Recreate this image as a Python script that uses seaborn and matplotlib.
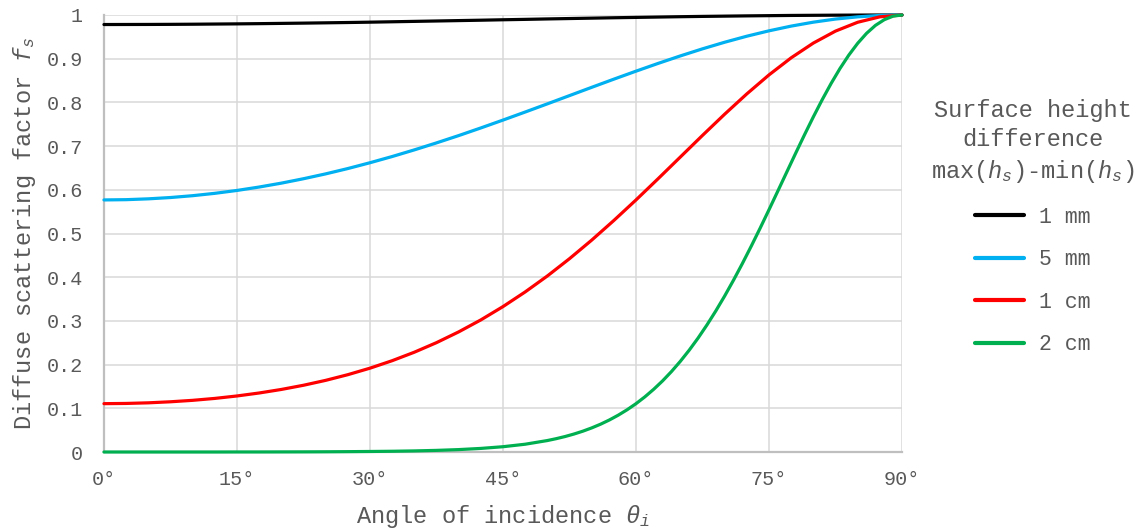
import numpy as np
import pandas as pd
import matplotlib
matplotlib.use("Agg")
import matplotlib.pyplot as plt
import seaborn as sns

# Angle of incidence (degrees)
angles = [0, 2.5, 5, 7.5, 10, 12.5, 15, 17.5, 20, 22.5, 25, 27.5, 30, 32.5, 35, 37.5,
          40, 42.5, 45, 47.5, 50, 52.5, 55, 57.5, 60, 62.5, 65, 67.5, 70, 72.5, 75,
          77.5, 80, 82.5, 85, 87.5, 90]

fs_1mm = [0.9782, 0.9783, 0.9784, 0.9786, 0.9789, 0.9793, 0.9797, 0.9802, 0.9808, 0.9814,
          0.9821, 0.9828, 0.9836, 0.9845, 0.9854, 0.9863, 0.9872, 0.9881, 0.9891, 0.9900,
          0.9910, 0.9919, 0.9928, 0.9937, 0.9945, 0.9953, 0.9961, 0.9968, 0.9974, 0.9980,
          0.9985, 0.9990, 0.9993, 0.9996, 0.9998, 1.0000, 1.0000]

fs_5mm = [0.5769, 0.5775, 0.5794, 0.5824, 0.5866, 0.5920, 0.5986, 0.6064, 0.6153, 0.6254,
          0.6365, 0.6487, 0.6620, 0.6762, 0.6914, 0.7074, 0.7241, 0.7416, 0.7596, 0.7780,
          0.7967, 0.8156, 0.8345, 0.8532, 0.8715, 0.8893, 0.9064, 0.9226, 0.9377, 0.9515,
          0.9638, 0.9746, 0.9836, 0.9907, 0.9958, 0.9990, 1.0000]

fs_1cm = [0.1108, 0.1113, 0.1127, 0.1151, 0.1184, 0.1228, 0.1284, 0.1352, 0.1433, 0.1529,
          0.1641, 0.1771, 0.1920, 0.2091, 0.2285, 0.2504, 0.2750, 0.3024, 0.3329, 0.3664,
          0.4029, 0.4425, 0.4849, 0.5299, 0.5769, 0.6256, 0.6751, 0.7246, 0.7731, 0.8196,
          0.8630, 0.9021, 0.9358, 0.9632, 0.9834, 0.9958, 1.0000]

# the 2 cm curve is steep, so it is read at a finer step past 50 degrees
angles_2cm = [0, 2.5, 5, 7.5, 10, 12.5, 15, 17.5, 20, 22.5, 25, 27.5, 30, 32.5, 35, 37.5,
              40, 42.5, 45, 47.5, 50, 51, 52, 53, 54, 55, 56, 57, 58, 59, 60, 61, 62, 63,
              64, 65, 66, 67, 68, 69, 70, 71, 72, 73, 74, 75, 76, 77, 78, 79, 80, 81, 82,
              83, 84, 85, 86, 87, 88, 89, 90]

fs_2cm = [0.0002, 0.0002, 0.0002, 0.0002, 0.0002, 0.0002, 0.0003, 0.0003, 0.0004, 0.0005,
          0.0007, 0.0010, 0.0014, 0.0019, 0.0027, 0.0039, 0.0057, 0.0084, 0.0123, 0.0180,
          0.0264, 0.0307, 0.0356, 0.0413, 0.0478, 0.0553, 0.0638, 0.0735, 0.0845, 0.0969,
          0.1108, 0.1264, 0.1438, 0.1630, 0.1843, 0.2077, 0.2332, 0.2609, 0.2909, 0.3230,
          0.3572, 0.3935, 0.4316, 0.4713, 0.5124, 0.5546, 0.5975, 0.6406, 0.6836, 0.7259,
          0.7670, 0.8063, 0.8433, 0.8775, 0.9083, 0.9353, 0.9581, 0.9762, 0.9893, 0.9974,
          1.0000]

series_names = ["1 mm", "5 mm", "1 cm", "2 cm"]
series_angles = [angles, angles, angles, angles_2cm]
series_values = [fs_1mm, fs_5mm, fs_1cm, fs_2cm]
series_colors = ["#000000", "#00b0f0", "#ff0000", "#00b050"]

x_ticks = [0, 15, 30, 45, 60, 75, 90]
x_tick_labels = ["0°", "15°", "30°", "45°", "60°", "75°", "90°"]
y_ticks = [0, 0.1, 0.2, 0.3, 0.4, 0.5, 0.6, 0.7, 0.8, 0.9, 1]
y_tick_labels = ["0", "0.1", "0.2", "0.3", "0.4", "0.5", "0.6", "0.7", "0.8", "0.9", "1"]

frames = []
for name, xs, vals in zip(series_names, series_angles, series_values):
    frames.append(pd.DataFrame({"angle": xs, "fs": vals, "series": name}))
df = pd.concat(frames, ignore_index=True)

sns.set_style("white")
plt.rcParams["font.family"] = ["Liberation Mono", "DejaVu Sans"]
plt.rcParams["mathtext.fontset"] = "custom"
plt.rcParams["mathtext.rm"] = "Liberation Mono"
plt.rcParams["mathtext.it"] = "Liberation Mono:italic"
plt.rcParams["mathtext.fallback"] = "cm"

text_color = "#595959"
fig = plt.figure(figsize=(11.45, 5.3), dpi=100)
ax = fig.add_axes([0.0908, 0.147, 0.697, 0.8247])

sns.lineplot(data=df, x="angle", y="fs", hue="series", hue_order=series_names,
             palette=dict(zip(series_names, series_colors)), linewidth=2.3,
             ax=ax, clip_on=False, zorder=3)

ax.set_xlim(0, 90)
ax.set_ylim(0, 1)
ax.set_xticks(x_ticks)
ax.set_xticklabels(x_tick_labels)
ax.set_yticks(y_ticks)
ax.set_yticklabels(y_tick_labels)
ax.grid(True, color="#d9d9d9", linewidth=1.1, zorder=0)
ax.set_axisbelow(True)
for s in ["top", "right"]:
    ax.spines[s].set_visible(False)
for s in ["left", "bottom"]:
    ax.spines[s].set_color("#bfbfbf")
    ax.spines[s].set_linewidth(1.6)
ax.tick_params(axis="both", length=0, labelsize=14.5, colors=text_color)
ax.tick_params(axis="x", pad=13)
ax.tick_params(axis="y", pad=15)

ax.set_xlabel(r"Angle of incidence $\theta_i$", fontsize=17, color=text_color, labelpad=10)
ax.set_ylabel(r"Diffuse scattering factor $f_s$", fontsize=17, color=text_color, labelpad=6)

leg = ax.legend(title="Surface height\ndifference\nmax($h_s$)-min($h_s$)",
                loc="upper center", bbox_to_anchor=(0.902, 0.85),
                bbox_transform=fig.transFigure, frameon=False,
                fontsize=15.5, title_fontsize=17, handlelength=2.3,
                labelspacing=1.0, handletextpad=0.7)
leg.get_title().set_multialignment("center")
leg.get_title().set_linespacing(1.35)
leg.get_title().set_color(text_color)
for t in leg.get_texts():
    t.set_color(text_color)
for line in leg.get_lines():
    line.set_linewidth(3)

fig.savefig("out.png", dpi=100)
